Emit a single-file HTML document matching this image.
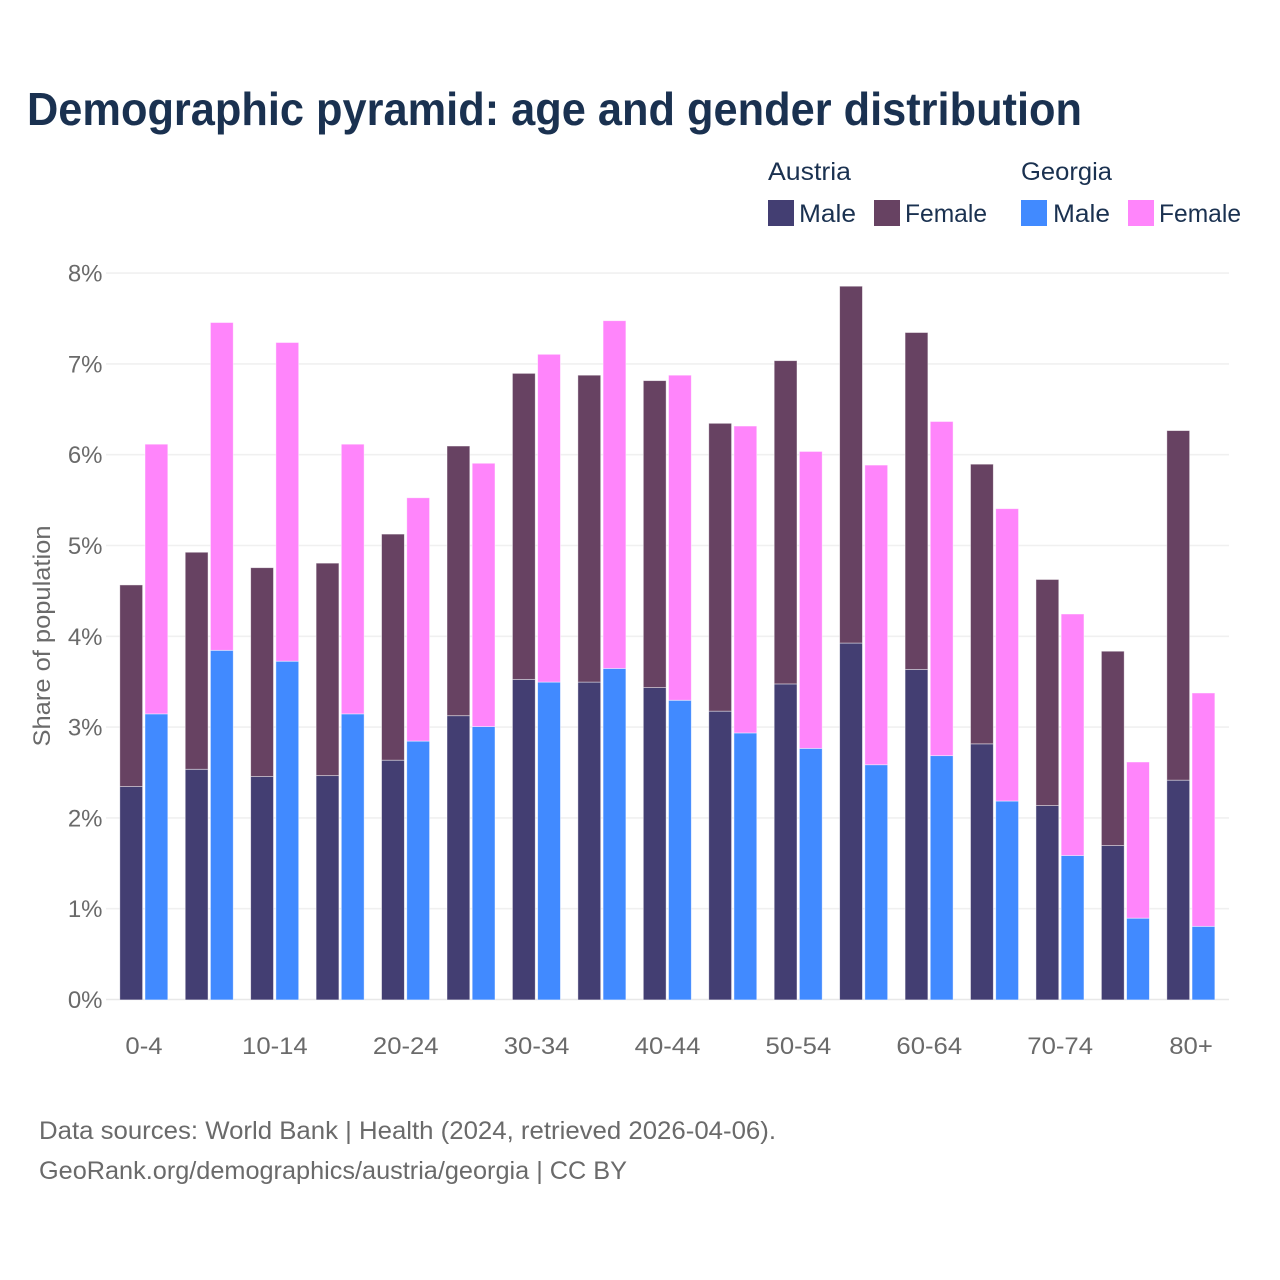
<!DOCTYPE html>
<html>
<head>
<meta charset="utf-8">
<style>
html,body{margin:0;padding:0;background:#fff;width:1280px;height:1280px;overflow:hidden}
svg{display:block}
text{font-family:"Liberation Sans",sans-serif}
</style>
</head>
<body>
<svg id="chart" xmlns="http://www.w3.org/2000/svg" width="1280" height="1280" viewBox="0 0 1280 1280">
<rect x="0" y="0" width="1280" height="1280" fill="#ffffff"/>
<text x="27" y="125" font-size="46" font-weight="700" fill="#1a3150" textLength="1055" lengthAdjust="spacingAndGlyphs">Demographic pyramid: age and gender distribution</text>
<g font-size="25" fill="#1a3150">
<text x="768" y="180" textLength="83" lengthAdjust="spacingAndGlyphs">Austria</text>
<text x="1021" y="180" textLength="91" lengthAdjust="spacingAndGlyphs">Georgia</text>
<rect x="768" y="200" width="26" height="26" fill="#433e72"/>
<text x="799" y="222" textLength="57" lengthAdjust="spacingAndGlyphs">Male</text>
<rect x="874" y="200" width="26" height="26" fill="#674262"/>
<text x="905" y="222" textLength="82" lengthAdjust="spacingAndGlyphs">Female</text>
<rect x="1021" y="200" width="26" height="26" fill="#418aff"/>
<text x="1053" y="222" textLength="57" lengthAdjust="spacingAndGlyphs">Male</text>
<rect x="1128" y="200" width="26" height="26" fill="#ff85fb"/>
<text x="1159" y="222" textLength="82" lengthAdjust="spacingAndGlyphs">Female</text>
</g>
<text transform="translate(50,636) rotate(-90)" text-anchor="middle" font-size="24" fill="#6a6a6a" textLength="221" lengthAdjust="spacingAndGlyphs">Share of population</text>
<g id="grid"></g>
<g id="bars"></g>
<g id="xticks"></g>
<text x="39" y="1139" font-size="25" fill="#6a6a6a" textLength="737" lengthAdjust="spacingAndGlyphs">Data sources: World Bank | Health (2024, retrieved 2026-04-06).</text>
<text x="39" y="1179" font-size="25" fill="#6a6a6a" textLength="588" lengthAdjust="spacingAndGlyphs">GeoRank.org/demographics/austria/georgia | CC BY</text>
</svg>
<script>
var categories = ["0-4","5-9","10-14","15-19","20-24","25-29","30-34","35-39","40-44","45-49","50-54","55-59","60-64","65-69","70-74","75-79","80+"];
var tickLabels = ["0-4","","10-14","","20-24","","30-34","","40-44","","50-54","","60-64","","70-74","","80+"];
var yTicks = [0,1,2,3,4,5,6,7,8];
var austriaMale = [2.35,2.54,2.46,2.47,2.64,3.13,3.53,3.50,3.44,3.18,3.48,3.93,3.64,2.82,2.14,1.70,2.42];
var austriaFemale = [2.22,2.39,2.30,2.34,2.49,2.97,3.37,3.38,3.38,3.17,3.56,3.93,3.71,3.08,2.49,2.14,3.85];
var georgiaMale = [3.15,3.85,3.73,3.15,2.85,3.01,3.50,3.65,3.30,2.94,2.77,2.59,2.69,2.19,1.59,0.90,0.81];
var georgiaFemale = [2.97,3.61,3.51,2.97,2.68,2.90,3.61,3.83,3.58,3.38,3.27,3.30,3.68,3.22,2.66,1.72,2.57];

var NS = "http://www.w3.org/2000/svg";
function yScale(v){ return 999.5 - v * 90.8; }
function xCenter(i){ return 143.8 + i * 65.44; }
var barW = 22.8, barGap = 1.2, barDrop = 0.4;

var grid = document.getElementById("grid");
yTicks.forEach(function(t){
  var line = document.createElementNS(NS,"line");
  
  
  line.setAttribute("x1",106);
  line.setAttribute("x2",1229);
  line.setAttribute("y1",yScale(t));
  line.setAttribute("y2",yScale(t));
  line.setAttribute("stroke", t === 0 ? "#e8e8e8" : "#f0f0f0");
  line.setAttribute("stroke-width",1.6);
  grid.appendChild(line);
  var label = document.createElementNS(NS,"text");
  
  
  label.setAttribute("x",102.5);
  label.setAttribute("y",yScale(t)+8.5);
  label.setAttribute("text-anchor","end");
  label.setAttribute("font-size",24);
  label.setAttribute("fill","#6a6a6a");
  label.textContent = t + "%";
  grid.appendChild(label);
});

var bars = document.getElementById("bars");
function addBar(x, base, val, color){
  var r = document.createElementNS(NS,"rect");
  
  
  r.setAttribute("x",x);
  r.setAttribute("width",barW);
  r.setAttribute("y",yScale(base+val)+barDrop);
  r.setAttribute("height",yScale(base)-yScale(base+val));
  r.setAttribute("fill",color);
  r.setAttribute("stroke","#ffffff");
  r.setAttribute("stroke-opacity","0.55");
  r.setAttribute("stroke-width","0.8");
  bars.appendChild(r);
}
categories.forEach(function(c,i){
  var cx = xCenter(i);
  var xa = cx - barGap - barW;
  var xg = cx + barGap;
  addBar(xa, 0, austriaMale[i], "#433e72");
  addBar(xa, austriaMale[i], austriaFemale[i], "#674262");
  addBar(xg, 0, georgiaMale[i], "#418aff");
  addBar(xg, georgiaMale[i], georgiaFemale[i], "#ff85fb");
});

var xticks = document.getElementById("xticks");
tickLabels.forEach(function(t,i){
  if(!t) return;
  var label = document.createElementNS(NS,"text");
  
  
  label.setAttribute("x",xCenter(i)+0.2);
  label.setAttribute("y",1054);
  label.setAttribute("text-anchor","middle");
  label.setAttribute("font-size",24);
  label.setAttribute("fill","#6a6a6a");
  label.textContent = t;
  xticks.appendChild(label);
  label.setAttribute("lengthAdjust","spacingAndGlyphs");
  label.setAttribute("textLength",label.getComputedTextLength()*1.07);
});
</script>
</body>
</html>
